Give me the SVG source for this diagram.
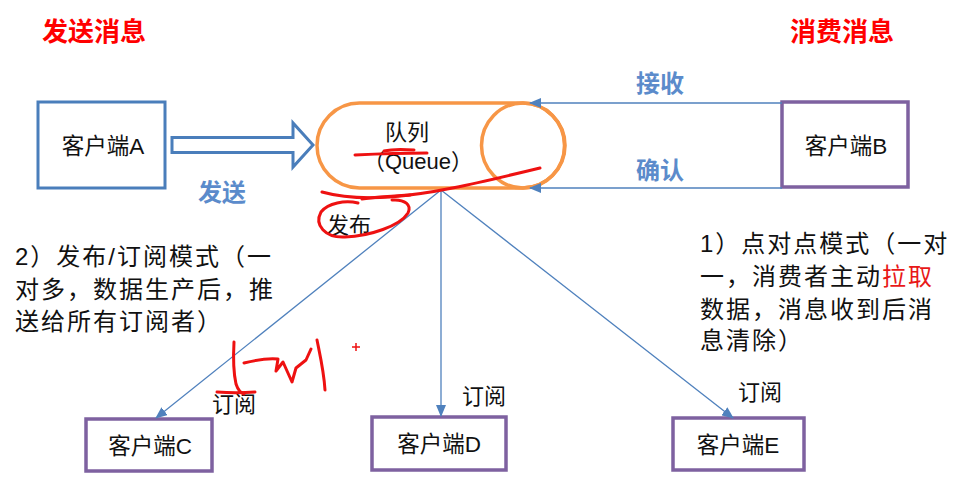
<svg xmlns="http://www.w3.org/2000/svg" width="953" height="500" viewBox="0 0 953 500">
<defs>
<style>
.t{font-family:"Liberation Sans","Noto Sans CJK SC",sans-serif;fill:#111;}
.node{font-size:22.5px;}
.title{font-family:"Noto Sans CJK SC",sans-serif;font-weight:bold;font-size:26px;fill:#FF0000;}
.blab{font-family:"Noto Sans CJK SC",sans-serif;font-weight:bold;font-size:24px;fill:#5B8BCB;}
.para{font-size:24px;letter-spacing:2px;}
.sub{font-size:22px;}
.bbox{fill:#fff;stroke:#4A7EBB;stroke-width:3;}
.pbox{fill:#fff;stroke:#7E61A0;stroke-width:3.5;}
.conn{stroke:#4F81BD;stroke-width:1.3;fill:none;}
.ink{stroke:#EE1111;stroke-width:3;fill:none;stroke-linecap:round;stroke-linejoin:round;}
</style>
<marker id="ah" viewBox="0 0 12 10" refX="11" refY="5" markerWidth="12" markerHeight="10" markerUnits="userSpaceOnUse" orient="auto">
<path d="M0,0 L12,5 L0,10 Z" fill="#4F81BD"/>
</marker>
</defs>
<rect width="953" height="500" fill="#fff"/>

<text class="title" x="42" y="41">发送消息</text>
<text class="title" x="790" y="41">消费消息</text>

<g id="clientA">
<rect class="bbox" x="38" y="102" width="127" height="86"/>
<text class="t node" x="103" y="154" text-anchor="middle">客户端A</text>
</g>

<g id="queue">
<rect x="317" y="103" width="248" height="85" rx="42.5" fill="#fff" stroke="#F79646" stroke-width="3.5"/>
<ellipse cx="523" cy="145.5" rx="41.5" ry="42.5" fill="none" stroke="#F79646" stroke-width="3.5"/>
<text class="t sub" x="407" y="140" text-anchor="middle">队列</text>
<text class="t sub" x="418" y="169" text-anchor="middle">（Queue）</text>
</g>

<g id="clientB">
<rect class="pbox" x="782" y="102" width="126" height="85"/>
<text class="t node" x="846" y="154" text-anchor="middle">客户端B</text>
</g>

<g id="clientC">
<rect class="pbox" x="86" y="419" width="126" height="52"/>
<text class="t node" x="150" y="454" text-anchor="middle">客户端C</text>
</g>

<g id="clientD">
<rect class="pbox" x="372" y="417" width="134" height="53"/>
<text class="t node" x="439" y="452" text-anchor="middle">客户端D</text>
</g>

<g id="clientE">
<rect class="pbox" x="673" y="418" width="131" height="52"/>
<text class="t node" x="738" y="453" text-anchor="middle">客户端E</text>
</g>

<g id="connectors">
<path d="M172,137.5 H293 V123 L313,145 L293,167 V152.5 H172 Z" fill="#fff" stroke="#4A7EBB" stroke-width="3" stroke-linejoin="miter"/>
<line class="conn" x1="782" y1="103" x2="530" y2="103" marker-end="url(#ah)"/>
<line class="conn" x1="782" y1="188" x2="530" y2="188" marker-end="url(#ah)"/>
<line class="conn" x1="441" y1="190" x2="156" y2="418" marker-end="url(#ah)"/>
<line class="conn" x1="441" y1="190" x2="441" y2="416" marker-end="url(#ah)"/>
<line class="conn" x1="441" y1="190" x2="733" y2="418" marker-end="url(#ah)"/>
</g>

<text class="blab" x="198" y="201">发送</text>
<text class="blab" x="636" y="92">接收</text>
<text class="blab" x="636" y="179">确认</text>

<text class="t sub" x="212" y="412">订阅</text>
<text class="t sub" x="462" y="404">订阅</text>
<text class="t sub" x="738" y="400">订阅</text>

<text class="t para" x="15" y="265">2）发布/订阅模式（一</text>
<text class="t para" x="15" y="298">对多，数据生产后，推</text>
<text class="t para" x="15" y="330">送给所有订阅者）</text>

<text class="t para" x="700" y="252">1）点对点模式（一对</text>
<text class="t para" x="700" y="285">一，消费者主动<tspan fill="#E81818">拉取</tspan></text>
<text class="t para" x="700" y="318">数据，消息收到后消</text>
<text class="t para" x="700" y="349">息清除）</text>

<text class="t sub" x="327" y="233">发布</text>

<g id="annotations">
<path class="ink" d="M355,155 C375,154 395,153 427,153"/>
<path class="ink" d="M384,151 C392,149 402,149 414,150"/>
<path class="ink" d="M322,192 C340,197 360,199 390,197 C430,194 470,185 540,168"/>
<path class="ink" d="M362,199 C378,197 395,196 410,195"/>
<path class="ink" d="M358,203 C345,200 328,203 321,212 C314,225 325,238 345,237 C370,236 400,226 408,213 C412,205 405,199 392,200"/>
<path class="ink" d="M234,342 C233,360 234,375 236,384 C238,390 241,393 244,394"/>
<path class="ink" d="M217,392 C230,393 242,393 255,392"/>
<path class="ink" d="M244,363 C256,360 268,358 278,359 L276,371 L283,362 L292,382 L296,368 L306,360 L311,349"/>
<path class="ink" d="M317,340 C320,355 324,372 325,390"/>
<path d="M352,347 H360 M356,343 V351" stroke="#EE1111" stroke-width="1.5"/>
</g>
</svg>
